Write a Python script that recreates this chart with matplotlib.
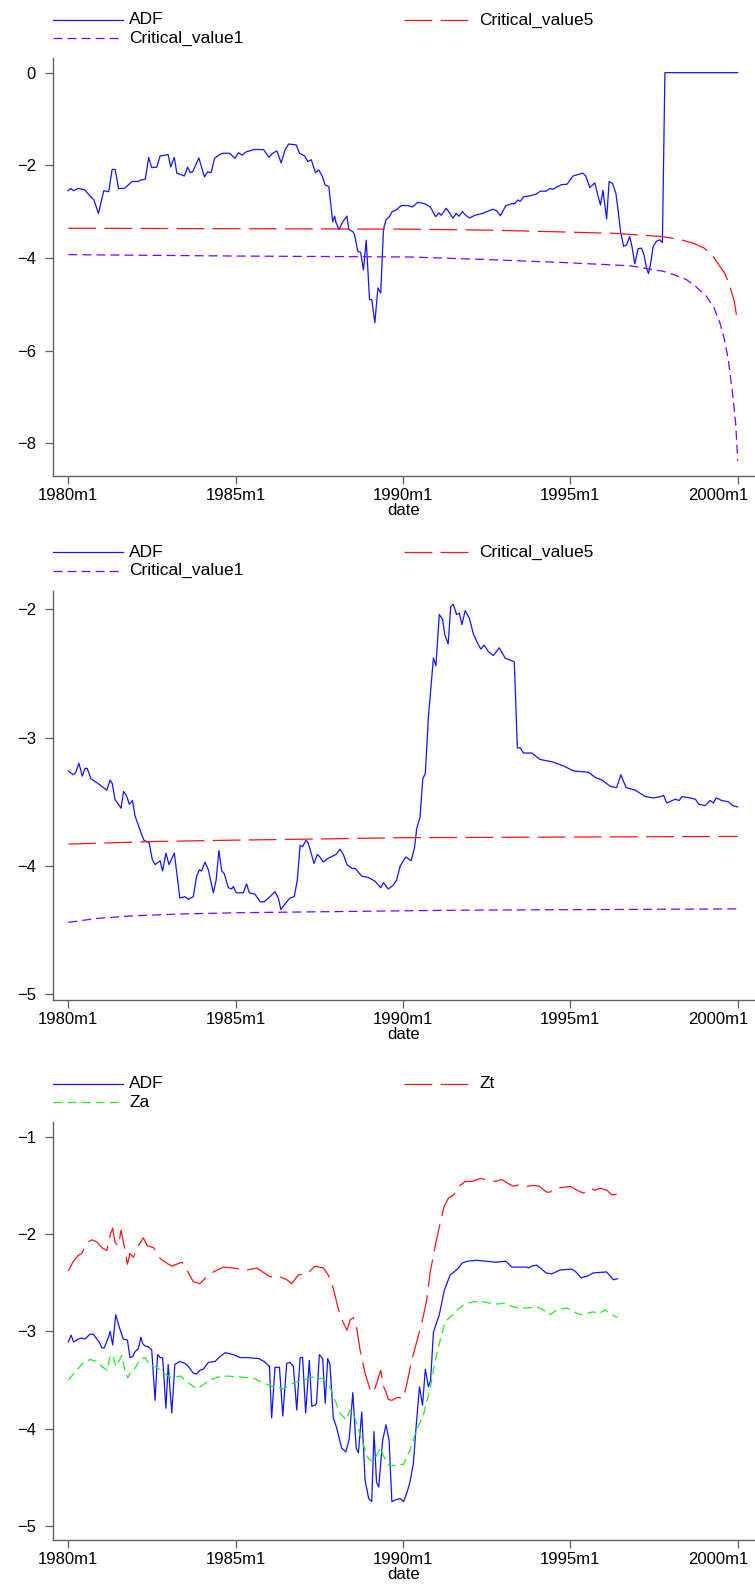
import matplotlib
matplotlib.use("Agg")
import matplotlib.pyplot as plt
from matplotlib.lines import Line2D
from matplotlib.transforms import ScaledTranslation

plt.rcParams['font.family'] = ['Liberation Sans', 'DejaVu Sans']
plt.rcParams['lines.scale_dashes'] = False

# Stata monthly dates: months since 1960m1 (240 = 1980m1)
tick_months = [240, 300, 360, 420, 480]
tick_labels = ['1980m1', '1985m1', '1990m1', '1995m1', '2000m1']

# ---- panel 1 -------------------------------------------------------------
p1_adf = [
    (239.9, -2.55), (240.9, -2.50), (241.9, -2.55), (243.5, -2.50), (245.9, -2.53),
    (247.7, -2.66), (249.2, -2.75), (250.8, -3.04), (252.7, -2.55), (254.5, -2.57),
    (255.7, -2.09), (256.8, -2.09), (258.0, -2.50), (260.1, -2.50), (262.9, -2.35),
    (264.9, -2.35), (266.1, -2.32), (267.6, -2.30), (268.8, -1.83), (269.9, -2.05),
    (271.7, -2.04), (272.9, -1.80), (275.8, -1.77), (276.7, -2.04), (278.0, -1.83),
    (278.9, -2.17), (281.6, -2.23), (282.8, -2.04), (283.7, -2.16), (284.6, -2.14),
    (286.8, -1.84), (288.8, -2.25), (290.0, -2.14), (291.2, -2.16), (292.4, -1.85),
    (294.2, -1.77), (295.4, -1.74), (297.8, -1.74), (299.8, -1.85), (301.0, -1.73),
    (302.3, -1.78), (303.8, -1.71), (306.7, -1.66), (310.0, -1.66), (311.9, -1.83),
    (313.3, -1.74), (314.8, -1.69), (316.3, -1.95), (317.7, -1.67), (319.0, -1.54),
    (321.7, -1.56), (322.9, -1.74), (324.7, -1.80), (325.9, -1.92), (327.1, -1.88),
    (328.6, -2.16), (329.8, -2.10), (331.0, -2.23), (332.1, -2.43), (333.4, -2.46),
    (334.8, -3.22), (335.5, -3.10), (336.0, -3.24), (337.0, -3.39), (338.4, -3.22),
    (339.9, -3.10), (340.6, -3.39), (342.0, -3.43), (342.6, -3.50), (343.8, -3.86),
    (344.8, -3.88), (345.8, -4.26), (346.8, -3.62), (348.0, -4.90), (348.8, -4.90),
    (349.9, -5.40), (351.0, -4.65), (352.0, -4.76), (353.0, -3.38), (353.9, -3.18),
    (355.1, -3.11), (356.1, -3.00), (357.2, -2.98), (359.4, -2.87), (361.8, -2.87),
    (363.3, -2.90), (365.4, -2.80), (367.8, -2.83), (369.8, -2.90), (371.7, -3.11),
    (372.9, -3.03), (373.7, -3.08), (375.5, -2.93), (376.7, -3.03), (377.9, -3.14),
    (379.1, -3.04), (380.1, -3.10), (381.3, -3.00), (382.5, -3.08), (383.9, -3.14),
    (385.7, -3.08), (388.5, -3.04), (390.5, -2.99), (392.2, -2.95), (393.6, -2.98),
    (394.9, -3.09), (396.8, -2.88), (398.8, -2.83), (400.0, -2.83), (401.2, -2.75),
    (402.0, -2.78), (403.3, -2.68), (405.6, -2.66), (407.8, -2.62), (409.2, -2.56),
    (411.3, -2.56), (412.7, -2.50), (413.7, -2.52), (415.1, -2.47), (416.8, -2.42),
    (418.8, -2.41), (421.0, -2.23), (422.8, -2.20), (424.5, -2.17), (425.5, -2.23),
    (427.0, -2.48), (427.9, -2.43), (428.8, -2.38), (429.6, -2.59), (430.8, -2.86),
    (431.7, -2.54), (433.0, -3.16), (433.9, -2.35), (435.1, -2.39), (436.3, -2.60),
    (437.1, -2.96), (438.0, -3.43), (439.1, -3.75), (440.1, -3.72), (441.3, -3.54),
    (442.2, -3.79), (443.1, -4.13), (444.3, -3.80), (445.5, -3.79), (446.4, -3.93),
    (447.3, -4.22), (448.0, -4.34), (448.7, -4.15), (449.7, -3.75), (450.9, -3.64),
    (452.0, -3.61), (453.0, -3.67), (453.9, 0.0), (480.0, 0.0),
]
p1_cv5 = [
    (240, -3.36), (300, -3.37), (362, -3.38), (390, -3.40), (411, -3.43), (436, -3.47),
    (453, -3.54), (459, -3.60), (464, -3.68), (468, -3.79), (471, -3.95), (473.6, -4.18),
    (475.5, -4.35), (477.2, -4.61), (478.8, -4.95), (480, -5.40),
]
p1_cv1 = [
    (240, -3.93), (300, -3.96), (362, -3.98), (387.5, -4.03), (417.4, -4.10), (441.3, -4.17),
    (453.3, -4.29), (457, -4.36), (461.6, -4.47), (465, -4.62), (468.8, -4.83), (471.5, -5.08),
    (473.6, -5.40), (475.2, -5.75), (476.6, -6.19), (478.4, -7.05), (479.3, -7.60), (480, -8.38),
]

# ---- panel 2 -------------------------------------------------------------
p2_adf = [
    (240.0, -3.26), (241.8, -3.29), (242.7, -3.27), (243.8, -3.20), (245.0, -3.30),
    (246.0, -3.24), (246.8, -3.24), (248.1, -3.32), (250.8, -3.36), (253.8, -3.41),
    (255.0, -3.33), (255.8, -3.36), (256.7, -3.48), (258.9, -3.55), (259.8, -3.42),
    (260.8, -3.45), (261.9, -3.52), (263.0, -3.49), (263.9, -3.61), (265.7, -3.72),
    (267.1, -3.80), (269.0, -3.82), (270.1, -3.95), (271.1, -3.99), (272.9, -3.96),
    (273.8, -4.04), (275.0, -3.90), (276.1, -3.99), (278.0, -3.90), (280.0, -4.25),
    (281.8, -4.24), (283.0, -4.26), (284.8, -4.24), (286.0, -4.08), (287.0, -4.03),
    (287.8, -4.04), (289.0, -3.97), (290.2, -4.03), (292.0, -4.21), (293.0, -4.11),
    (294.0, -3.88), (295.0, -4.04), (295.9, -4.06), (297.4, -4.17), (298.6, -4.18),
    (299.2, -4.16), (300.2, -4.21), (302.7, -4.21), (303.9, -4.14), (304.9, -4.21),
    (306.9, -4.22), (308.8, -4.28), (310.2, -4.28), (312.3, -4.24), (314.1, -4.20),
    (315.3, -4.25), (316.2, -4.34), (318.3, -4.28), (319.5, -4.25), (321.0, -4.24),
    (322.1, -4.11), (323.1, -3.84), (324.0, -3.85), (325.2, -3.80), (326.0, -3.82),
    (327.2, -3.91), (328.1, -3.98), (329.3, -3.91), (330.2, -3.93), (331.4, -3.97),
    (333.2, -3.94), (336.0, -3.91), (337.4, -3.87), (338.6, -3.91), (339.9, -3.99),
    (341.7, -4.02), (342.9, -4.02), (345.2, -4.08), (347.6, -4.09), (350.0, -4.12),
    (352.0, -4.17), (353.0, -4.13), (354.7, -4.18), (356.5, -4.15), (357.7, -4.11),
    (359.0, -4.00), (361.0, -3.93), (362.9, -3.96), (364.1, -3.86), (364.9, -3.71),
    (366.1, -3.62), (367.1, -3.32), (368.0, -3.28), (369.1, -2.84), (370.9, -2.38),
    (371.8, -2.44), (373.0, -2.04), (374.2, -2.08), (375.0, -2.20), (376.2, -2.27),
    (377.1, -1.98), (378.0, -1.96), (379.2, -2.04), (380.2, -2.03), (381.1, -2.12),
    (382.3, -2.01), (383.8, -2.07), (385.2, -2.19), (386.4, -2.25), (387.9, -2.31),
    (389.1, -2.28), (390.6, -2.33), (392.4, -2.36), (394.5, -2.30), (396.6, -2.38),
    (397.8, -2.39), (399.9, -2.41), (401.0, -3.08), (402.0, -3.08), (403.2, -3.12),
    (406.2, -3.12), (409.1, -3.17), (413.7, -3.19), (417.5, -3.22), (421.1, -3.26),
    (426.5, -3.27), (428.9, -3.31), (431.3, -3.33), (434.3, -3.38), (436.6, -3.39),
    (438.1, -3.29), (440.0, -3.39), (443.3, -3.41), (446.9, -3.46), (449.9, -3.47),
    (452.3, -3.46), (453.4, -3.45), (454.6, -3.51), (457.6, -3.48), (459.0, -3.49),
    (460.0, -3.46), (463.0, -3.47), (464.8, -3.48), (466.1, -3.52), (468.3, -3.53),
    (470.1, -3.49), (471.3, -3.51), (472.3, -3.47), (474.3, -3.49), (476.7, -3.50),
    (478.2, -3.53), (480.0, -3.54),
]
p2_cv5 = [(240, -3.83), (270, -3.81), (297, -3.80), (330, -3.79), (360, -3.78),
          (420, -3.775), (480, -3.77)]
p2_cv1 = [(240, -4.44), (250, -4.41), (262, -4.39), (280, -4.375), (300, -4.365),
          (340, -4.355), (380, -4.345), (430, -4.34), (480, -4.335)]

# ---- panel 3 -------------------------------------------------------------
p3_adf = [
    (240.0, -3.11), (241.0, -3.04), (241.9, -3.11), (243.5, -3.08), (244.7, -3.07),
    (245.9, -3.08), (247.8, -3.03), (249.0, -3.03), (250.2, -3.08), (251.1, -3.11),
    (252.0, -3.17), (252.9, -3.17), (254.4, -3.06), (255.0, -3.00), (255.9, -3.14),
    (257.0, -2.83), (258.3, -2.96), (259.7, -3.08), (261.2, -3.09), (262.1, -3.27),
    (263.1, -3.26), (263.9, -3.21), (265.1, -3.18), (266.0, -3.06), (266.7, -3.13),
    (267.5, -3.15), (268.7, -3.16), (269.9, -3.19), (271.1, -3.71), (272.0, -3.24),
    (272.9, -3.27), (273.8, -3.27), (275.0, -3.79), (275.8, -3.34), (277.1, -3.84),
    (278.2, -3.34), (280.0, -3.31), (281.8, -3.33), (283.0, -3.36), (284.8, -3.43),
    (286.0, -3.44), (287.2, -3.40), (288.4, -3.39), (290.2, -3.32), (292.6, -3.31),
    (294.4, -3.26), (296.2, -3.22), (299.2, -3.24), (301.6, -3.27), (304.0, -3.27),
    (308.2, -3.28), (310.2, -3.31), (312.1, -3.36), (312.9, -3.89), (314.1, -3.37),
    (315.7, -3.37), (316.9, -3.87), (318.3, -3.33), (319.5, -3.32), (320.7, -3.36),
    (321.9, -3.81), (323.1, -3.27), (324.0, -3.27), (325.1, -3.84), (326.4, -3.30),
    (327.3, -3.77), (328.4, -3.76), (329.0, -3.74), (330.0, -3.24), (331.2, -3.28),
    (332.1, -3.74), (333.0, -3.28), (333.8, -3.34), (335.0, -3.89), (336.2, -3.99),
    (338.0, -4.20), (339.5, -4.24), (340.7, -4.11), (342.0, -3.63), (343.2, -4.20),
    (344.0, -4.25), (345.2, -3.83), (346.4, -4.53), (347.7, -4.72), (348.8, -4.75),
    (349.6, -4.03), (350.5, -4.55), (351.3, -4.60), (352.7, -4.12), (353.9, -3.96),
    (355.0, -4.12), (356.0, -4.75), (357.5, -4.73), (359.0, -4.72), (360.2, -4.75),
    (361.5, -4.65), (362.5, -4.55), (363.7, -4.36), (364.7, -3.98), (365.9, -3.57),
    (367.0, -3.76), (368.0, -3.39), (369.1, -3.57), (369.9, -3.50), (370.9, -3.01),
    (373.0, -2.83), (374.8, -2.58), (376.9, -2.42), (378.3, -2.39), (379.9, -2.35),
    (381.1, -2.30), (383.1, -2.28), (386.4, -2.27), (390.0, -2.28), (393.0, -2.29),
    (396.9, -2.28), (399.0, -2.34), (402.0, -2.34), (404.4, -2.34), (405.0, -2.35),
    (406.1, -2.33), (407.9, -2.32), (409.7, -2.36), (411.3, -2.40), (413.3, -2.41),
    (416.3, -2.37), (420.5, -2.36), (422.0, -2.39), (423.8, -2.45), (426.4, -2.43),
    (428.2, -2.40), (433.0, -2.39), (435.4, -2.47), (436.9, -2.46),
]
p3_zt = [
    (240.0, -2.38), (241.8, -2.28), (243.6, -2.22), (244.8, -2.20), (246.6, -2.09),
    (248.4, -2.06), (250.2, -2.08), (252.0, -2.14), (253.8, -2.17), (255.0, -2.01),
    (255.9, -1.94), (256.8, -2.09), (258.0, -2.12), (258.9, -1.96), (260.0, -2.12),
    (261.2, -2.31), (262.1, -2.20), (263.3, -2.24), (265.1, -2.12), (266.9, -2.04),
    (268.3, -2.12), (270.5, -2.14), (272.9, -2.25), (275.3, -2.30), (277.1, -2.33),
    (278.9, -2.31), (280.7, -2.29), (282.5, -2.37), (284.8, -2.49), (287.2, -2.51),
    (289.6, -2.44), (292.0, -2.39), (295.6, -2.34), (299.2, -2.35), (304.0, -2.37),
    (307.6, -2.35), (312.3, -2.44), (315.9, -2.44), (318.3, -2.47), (320.1, -2.51),
    (322.5, -2.42), (325.5, -2.41), (328.5, -2.33), (331.4, -2.35), (333.2, -2.42),
    (335.0, -2.56), (336.8, -2.77), (338.4, -2.90), (339.9, -2.99), (341.1, -2.88),
    (342.2, -2.86), (343.4, -2.97), (344.6, -3.19), (346.4, -3.43), (348.2, -3.60),
    (349.4, -3.63), (350.6, -3.53), (352.0, -3.40), (353.0, -3.57), (353.9, -3.62),
    (354.7, -3.70), (356.0, -3.71), (358.0, -3.68), (360.1, -3.69), (361.3, -3.55),
    (363.1, -3.30), (364.9, -3.11), (366.7, -2.92), (368.5, -2.68), (369.7, -2.40),
    (371.5, -2.13), (373.3, -1.89), (374.7, -1.72), (376.3, -1.63), (378.1, -1.60),
    (380.5, -1.50), (382.3, -1.46), (384.7, -1.46), (387.6, -1.43), (390.0, -1.44),
    (393.0, -1.46), (395.4, -1.44), (397.0, -1.47), (399.6, -1.51), (402.0, -1.49),
    (404.4, -1.51), (406.7, -1.50), (408.9, -1.51), (411.5, -1.57), (412.7, -1.57),
    (414.5, -1.53), (417.5, -1.52), (420.1, -1.51), (422.3, -1.55), (424.7, -1.58),
    (427.1, -1.53), (428.9, -1.55), (430.7, -1.53), (433.1, -1.55), (434.9, -1.60),
    (436.9, -1.59),
]
p3_za = [
    (240.0, -3.50), (241.8, -3.44), (243.6, -3.38), (245.4, -3.32), (247.8, -3.29),
    (250.2, -3.31), (252.0, -3.36), (253.8, -3.40), (255.0, -3.26), (255.9, -3.24),
    (257.0, -3.36), (258.3, -3.30), (259.1, -3.25), (260.3, -3.40), (261.3, -3.48),
    (262.4, -3.42), (263.9, -3.38), (265.7, -3.29), (267.5, -3.27), (269.3, -3.35),
    (271.7, -3.37), (274.1, -3.43), (276.5, -3.47), (278.3, -3.47), (280.1, -3.46),
    (283.0, -3.53), (286.0, -3.59), (288.4, -3.55), (290.8, -3.50), (293.8, -3.47),
    (296.8, -3.46), (301.6, -3.47), (306.3, -3.48), (309.9, -3.53), (313.5, -3.57),
    (317.1, -3.59), (320.7, -3.53), (324.3, -3.50), (327.9, -3.47), (331.4, -3.49),
    (333.8, -3.57), (335.6, -3.71), (337.4, -3.84), (339.6, -3.91), (341.0, -3.81),
    (342.2, -3.84), (344.0, -4.01), (345.8, -4.17), (347.6, -4.31), (349.4, -4.34),
    (350.6, -4.27), (351.8, -4.20), (353.0, -4.28), (355.3, -4.39), (357.5, -4.37),
    (360.1, -4.37), (362.5, -4.22), (364.9, -4.01), (367.3, -3.86), (369.7, -3.59),
    (371.5, -3.31), (373.3, -3.09), (375.1, -2.90), (377.5, -2.84), (379.8, -2.77),
    (382.2, -2.72), (384.6, -2.70), (387.6, -2.69), (391.2, -2.71), (394.2, -2.72),
    (396.0, -2.71), (399.6, -2.75), (402.0, -2.76), (404.4, -2.76), (408.0, -2.75),
    (410.3, -2.78), (412.7, -2.83), (415.1, -2.78), (418.7, -2.76), (420.5, -2.79),
    (423.6, -2.83), (425.4, -2.82), (428.3, -2.80), (430.1, -2.82), (432.5, -2.78),
    (434.3, -2.82), (436.9, -2.86),
]

BLUE, RED, PURPLE, GREEN = '#1414ff', '#ff1414', '#8000ff', '#22ee22'
LONG_DASH = (20, 6)
SHORT_DASH = (6.5, 3.6)
AXIS_GRAY = '#606060'

W, H = 755, 1585
fig = plt.figure(figsize=(W / 100, H / 100), dpi=100)


def fx(px):
    return px / W


def fy(py):
    return 1 - py / H


def draw_panel(top, bottom, ylim, yticks, series):
    ax = fig.add_axes([fx(52.7), fy(bottom), fx(W - 52.7), (bottom - top) / H])
    for label, pts, color, dashes in series:
        months, vals = zip(*pts)
        line, = ax.plot(months, vals, color=color, lw=0.9)
        if dashes:
            line.set_dashes(dashes)

    ax.set_xlim(234.4, 486.2)
    ax.set_ylim(*ylim)
    ax.set_xticks(tick_months)
    ax.set_xticklabels(tick_labels)
    ax.set_yticks(yticks)
    ax.set_xlabel('date', fontsize=12, labelpad=0)
    for side in ['top', 'right']:
        ax.spines[side].set_visible(False)
    for side in ['left', 'bottom']:
        ax.spines[side].set_color(AXIS_GRAY)
        ax.spines[side].set_linewidth(1.0)
    ax.tick_params(length=5.8, width=0.9, color=AXIS_GRAY, labelsize=12)
    ax.tick_params(axis='x', pad=3)
    ax.tick_params(axis='y', pad=6.3)

    # last date label is pulled inside the figure edge, as in the original
    last = ax.get_xticklabels()[-1]
    last.set_transform(last.get_transform()
                       + ScaledTranslation(-0.19, 0, fig.dpi_scale_trans))

    # legend: two columns, Stata style, above the plot region
    off = top - 58.3
    slots = [(53, 20), (403.5, 20), (53, 38.3)]
    for (label, pts, color, dashes), (x0, y0) in zip(series, slots):
        ln = Line2D([fx(x0), fx(x0 + 70)], [fy(y0 + off)] * 2,
                    transform=fig.transFigure, color=color, lw=0.9)
        if dashes:
            ln.set_dashes(dashes)
        fig.add_artist(ln)
        fig.text(fx(x0 + 76), fy(y0 + off), label, fontsize=12.5,
                 va='center', ha='left')
    return ax


draw_panel(58.3, 476, (-8.71, 0.31), [0, -2, -4, -6, -8], [
    ('ADF', p1_adf, BLUE, None),
    ('Critical_value5', p1_cv5, RED, LONG_DASH),
    ('Critical_value1', p1_cv1, PURPLE, SHORT_DASH),
])
draw_panel(590.7, 1000, (-5.045, -1.855), [-2, -3, -4, -5], [
    ('ADF', p2_adf, BLUE, None),
    ('Critical_value5', p2_cv5, RED, LONG_DASH),
    ('Critical_value1', p2_cv1, PURPLE, SHORT_DASH),
])
draw_panel(1122.3, 1540, (-5.145, -0.852), [-1, -2, -3, -4, -5], [
    ('ADF', p3_adf, BLUE, None),
    ('Zt', p3_zt, RED, LONG_DASH),
    ('Za', p3_za, GREEN, SHORT_DASH),
])

fig.savefig('out.png', dpi=100)
